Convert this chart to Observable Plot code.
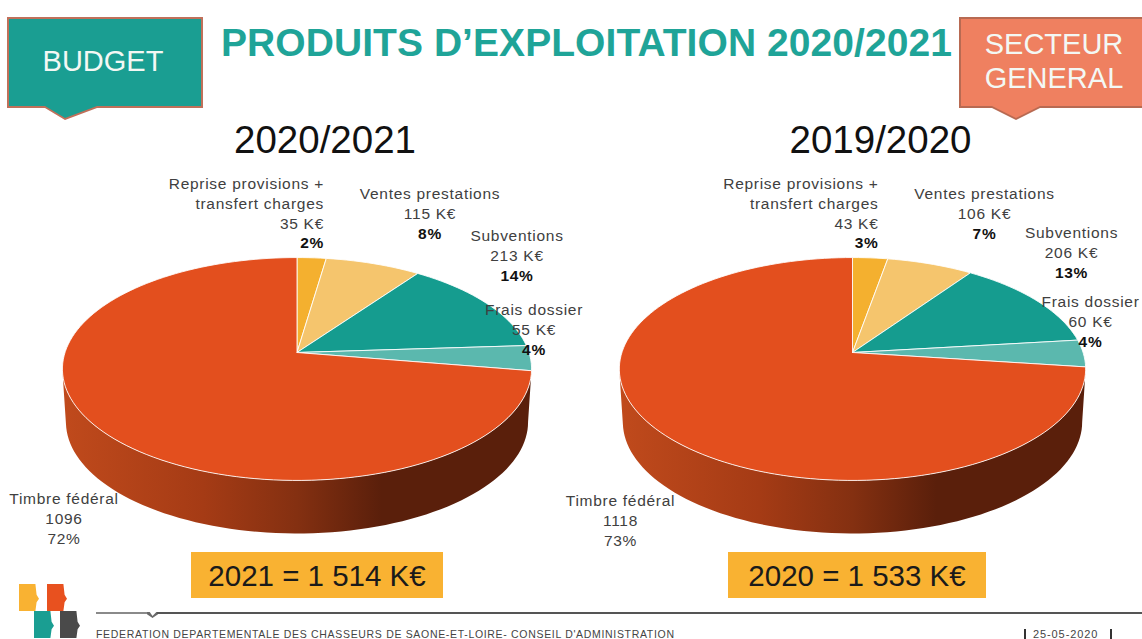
<!DOCTYPE html>
<html lang="fr">
<head>
<meta charset="utf-8">
<script src="https://cdn.jsdelivr.net/npm/d3@7"></script>
<script src="https://cdn.jsdelivr.net/npm/@observablehq/plot@0.6"></script>
<style>
html,body{margin:0;padding:0;background:#fff}
#page{position:relative;width:1142px;height:639px;overflow:hidden;font-family:"Liberation Sans",Arial,sans-serif}
#page>*{position:absolute}
#chart{left:0;top:110px}
#chart svg g[aria-label="text"] text{letter-spacing:.72px}
.tagO{clip-path:polygon(0 0,100% 0,100% 91px,var(--t2) 91px,var(--tm) 103px,var(--t1) 91px,0 91px)}
.tag{top:17px;height:103px}
.tagI{position:absolute;left:2px;top:2px;right:2px;bottom:2px;clip-path:polygon(0 0,100% 0,100% 87px,var(--t2i) 87px,var(--tm) 99px,var(--t1i) 87px,0 87px)}
.tagT{position:absolute;color:#f3f8f4;font-size:29px;white-space:nowrap;text-align:center;line-height:34px}
#title{left:221px;top:20px;font-size:39px;font-weight:700;color:#1fa498;white-space:nowrap;line-height:46px;letter-spacing:.06px}
.total{top:552px;height:46px;line-height:47px;background:#f9b232;color:#1a1a1a;font-size:29.5px;text-align:center;white-space:nowrap}
.logo{width:20px;height:27px;clip-path:polygon(0 0,82% 0,88% 40%,100% 55%,88% 68%,82% 100%,0 100%)}
#ruleA{left:96px;top:612px;width:52px;height:2px;background:#8a8a8a}
#notch{left:147px;top:611px;width:11px;height:7px;background:#6a6a6a;clip-path:polygon(0 15%,25% 15%,50% 70%,85% 15%,100% 15%,100% 45%,50% 100%,0 45%)}
#rule{left:157px;top:612px;width:985px;height:2px;background:#555}
#foot{left:96px;top:628px;font-size:10.5px;letter-spacing:.68px;color:#444;white-space:nowrap;line-height:12px}
#date{left:1033px;top:628px;font-size:11px;letter-spacing:.9px;color:#444;white-space:nowrap;line-height:12px}
.bar{top:629px;width:2px;height:10px;background:#333}
</style>
</head>
<body>
<div id="page">
  <div class="tag tagO" style="left:7px;width:196px;background:#c0705a;--t1:38px;--t2:90px;--tm:58px">
    <div class="tagI" style="background:#1a9e92;--t1i:36px;--t2i:88px;--tm:56px"></div>
    <div class="tagT" style="left:0;width:192px;top:27px">BUDGET</div>
  </div>
  <div id="title">PRODUITS D’EXPLOITATION 2020/2021</div>
  <div class="tag tagO" style="left:959px;width:190px;background:#b86a52;--t1:33px;--t2:81px;--tm:57px">
    <div class="tagI" style="background:#ef8060;--t1i:31px;--t2i:79px;--tm:55px"></div>
    <div class="tagT" style="left:0;width:190px;top:10px">SECTEUR<br>GENERAL</div>
  </div>
  <div id="chart"></div>
  <div class="total" style="left:191px;width:252px" id="t0"></div>
  <div class="total" style="left:728px;width:258px" id="t1"></div>
  <div class="logo" style="left:19px;top:584px;background:#f9b232"></div>
  <div class="logo" style="left:47px;top:584px;background:#e8511f"></div>
  <div class="logo" style="left:34px;top:611px;background:#1a9e92"></div>
  <div class="logo" style="left:60px;top:611px;background:#4a4a4a"></div>
  <div id="ruleA"></div><div id="notch"></div><div id="rule"></div>
  <div id="foot">FEDERATION DEPARTEMENTALE DES CHASSEURS DE SAONE-ET-LOIRE- CONSEIL D'ADMINISTRATION</div>
  <div class="bar" style="left:1024px"></div>
  <div id="date">25-05-2020</div>
  <div class="bar" style="left:1110px"></div>
</div>
<script>
// ---- data ----
const years = ["2020/2021", "2019/2020"];
const totalLabels = ["2021 = 1 514 K€", "2020 = 1 533 K€"];
const sliceNames = ["Reprise", "Ventes", "Subventions", "Frais", "Timbre"];
const labelTitles = [["Reprise provisions +", "transfert charges"], ["Ventes prestations"], ["Subventions"], ["Frais dossier"], ["Timbre fédéral"]];
const values2021 = [35, 115, 213, 55, 1096];
const values2020 = [43, 106, 206, 60, 1118];
const percent2021 = [2, 8, 14, 4, 72];
const percent2020 = [3, 7, 13, 4, 73];
const sliceColors = ["#f4b02f", "#f5c56d", "#159c8f", "#5bb8ae", "#e34f1e"];

// ---- layout (pixels relative to each pie's centre) ----
const halfBand = 277.75;
const perspective = 0.148, depth = 53, bottomNarrowing = 0.985;
const pieLayout = [{rx: 232, ry: 109}, {rx: 230.6, ry: 109}];
const labelAnchors = [
  [[27, -168], [133, -158], [220, -116], [237, -42], [-233, 147]],
  [[26, -168], [132, -158], [219, -119], [238, -50], [-232, 149]]
];
const lineStep = 19.6;

// ---- geometry: a disc seen in perspective ----
const rad = Math.PI / 180;
function project(deg, {rx, ry}) {
  const u = Math.sin(deg * rad), v = -Math.cos(deg * rad), w = 1 - perspective * v;
  return [rx * u / w, ry * v / w];
}
const slicePoints = [], sidePoints = [], labelRows = [];
[values2021, values2020].forEach((values, c) => {
  const year = years[c], lay = pieLayout[c], total = d3.sum(values);
  let acc = 0;
  values.forEach((val, i) => {
    const a0 = acc / total * 360, a1 = (acc + val) / total * 360;
    acc += val;
    const pts = [[0, 0]];
    const n = Math.max(2, Math.ceil((a1 - a0) / 2));
    for (let k = 0; k <= n; ++k) pts.push(project(a0 + (a1 - a0) * k / n, lay));
    pts.push([0, 0]);
    pts.forEach(([x, y]) => slicePoints.push({year, slice: sliceNames[i], x, y}));
  });
  const start = Math.acos(-perspective) / rad, end = 360 - start, arc = [];
  for (let d = start; d <= end + 1e-6; d += 2) arc.push(project(d, lay));
  arc.forEach(([x, y]) => sidePoints.push({year, x, y}));
  arc.slice().reverse().forEach(([x, y]) => sidePoints.push({year, x: x * bottomNarrowing, y: y + depth}));

  const pct = c ? percent2020 : percent2021;
  values.forEach((val, i) => {
    const [ax, ay] = labelAnchors[c][i];
    const isTimbre = sliceNames[i] === "Timbre";
    const lines = [...labelTitles[i], isTimbre ? `${val}` : `${val} K€`, `${pct[i]}%`];
    lines.forEach((text, k) => labelRows.push({
      year, text, x: ax, y: ay + k * lineStep,
      right: sliceNames[i] === "Reprise",
      bold: k === lines.length - 1 && !isTimbre
    }));
  });
});

function gradientDefs() {
  const ns = "http://www.w3.org/2000/svg";
  const defs = document.createElementNS(ns, "defs");
  const g = document.createElementNS(ns, "linearGradient");
  g.setAttribute("id", "sideShade");
  [[0, "#c04a1c"], [0.3, "#a53b15"], [0.5, "#843011"], [0.68, "#5a1f0b"], [1, "#5a1f0b"]].forEach(([o, col]) => {
    const s = document.createElementNS(ns, "stop");
    s.setAttribute("offset", o);
    s.setAttribute("stop-color", col);
    g.appendChild(s);
  });
  defs.appendChild(g);
  return defs;
}

const textMark = (filter, extra) => Plot.text(labelRows.filter(filter), {
  x: "x", y: "y", fx: "year", text: "text", lineAnchor: "middle", fontSize: 15.5, ...extra
});

const chart = Plot.plot({
  width: 1142, height: 442,
  marginLeft: 18.75, marginRight: 12.25, marginTop: 45, marginBottom: 0,
  style: {fontFamily: '"Liberation Sans", Arial, sans-serif', background: "transparent", overflow: "visible"},
  fx: {domain: years, padding: 0, round: false, label: null},
  x: {domain: [-halfBand, halfBand], axis: null},
  y: {domain: [-197, 200], reverse: true, axis: null},
  color: {domain: sliceNames, range: sliceColors},
  marks: [
    gradientDefs,
    Plot.axisFx({anchor: "top", tickSize: 0, tickPadding: 0, fontSize: 38.5, label: null, color: "#111", dx: 28, dy: -3}),
    Plot.line(sidePoints, {x: "x", y: "y", fx: "year", fill: "url(#sideShade)", stroke: "none"}),
    Plot.line(slicePoints, {x: "x", y: "y", fx: "year", z: "slice", fill: "slice", stroke: "#fff", strokeWidth: 1, strokeOpacity: 0.85}),
    textMark(d => !d.right && !d.bold, {fill: "#404040"}),
    textMark(d => d.right && !d.bold, {fill: "#404040", textAnchor: "end"}),
    textMark(d => !d.right && d.bold, {fill: "#111", fontWeight: 700}),
    textMark(d => d.right && d.bold, {fill: "#111", fontWeight: 700, textAnchor: "end"})
  ]
});
document.getElementById("chart").appendChild(chart);
document.getElementById("t0").textContent = totalLabels[0];
document.getElementById("t1").textContent = totalLabels[1];
</script>
</body>
</html>
